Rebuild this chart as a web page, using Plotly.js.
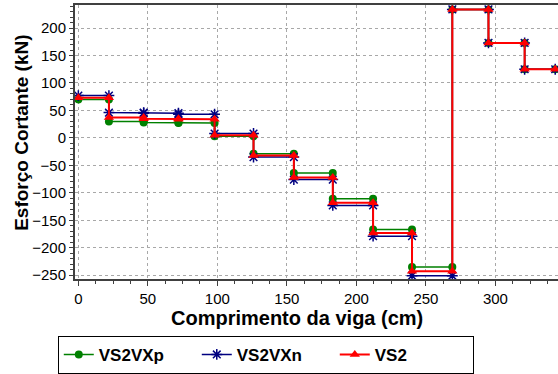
<!DOCTYPE html>
<html>
<head>
<meta charset="utf-8">
<script src="https://cdn.plot.ly/plotly-3.0.1.min.js"></script>
<style>html,body{margin:0;padding:0;background:#fff;}#chart{width:558px;height:374px;}</style>
</head>
<body>
<div id="chart"></div>
<script>
// Segment boundaries along the beam (cm)
const boundaries = [0, 22, 47, 72, 98, 126, 155, 183, 212, 240, 269, 295, 321, 343];
// Shear level on each segment (kN)
const levelsVS2VXp = [70, 30, 28, 27, 3, -29, -64, -111, -167, -235, 234, 173, 125];
const levelsVS2VXn = [77, 46, 45, 43, 8, -35, -76, -123, -179, -251, 234, 173, 125];
const levelsVS2    = [73, 37, 35, 34, 5, -32, -72, -118, -173, -243, 234, 173, 125];
const seriesNames = ['VS2VXp', 'VS2VXn', 'VS2'];
const xTickVals = [0, 50, 100, 150, 200, 250, 300];
const yTickVals = [-250, -200, -150, -100, -50, 0, 50, 100, 150, 200];
const xTitle = 'Comprimento da viga (cm)';
const yTitle = 'Esforço Cortante (kN)';

function stepXY(levels) {
  const x = [], y = [];
  for (let i = 0; i < levels.length; i++) {
    x.push(boundaries[i], boundaries[i + 1]);
    y.push(levels[i], levels[i]);
  }
  return {x, y};
}

const sp = stepXY(levelsVS2VXp), sn = stepXY(levelsVS2VXn), s2 = stepXY(levelsVS2);
const traces = [
  {x: sp.x, y: sp.y, name: seriesNames[0], mode: 'lines+markers',
   line: {color: '#008000', width: 1.5},
   marker: {symbol: 'circle', size: 8, color: '#008000'}},
  {x: sn.x, y: sn.y, name: seriesNames[1], mode: 'lines+markers',
   line: {color: '#000080', width: 1.5},
   marker: {symbol: 'asterisk-open', size: 9, color: '#000080', line: {color: '#000080', width: 1.5}}},
  {x: s2.x, y: s2.y, name: seriesNames[2], mode: 'lines+markers',
   line: {color: '#ff0000', width: 2},
   marker: {symbol: 'triangle-up', size: 9, color: '#ff0000'}}
];

const fam = 'Liberation Sans, Arial, sans-serif';
const tickFont = {family: fam, size: 15, color: '#000'};

const layout = {
  width: 558, height: 374,
  margin: {l: 75, r: 0, t: 5, b: 95},
  paper_bgcolor: '#fff', plot_bgcolor: '#fff',
  showlegend: true,
  legend: {orientation: 'h', x: 0.395, xanchor: 'center', y: -0.277, yanchor: 'middle',
    bordercolor: '#000', borderwidth: 1, bgcolor: '#fff',
    font: {family: fam, size: 17, color: '#000', weight: 'bold'},
    entrywidth: 93, tracegroupgap: 0},
  annotations: [
    {text: xTitle, xref: 'paper', yref: 'paper', x: 0.46, y: -0.142, xanchor: 'center', yanchor: 'middle',
     showarrow: false, font: {family: fam, size: 20, color: '#000', weight: 'bold'}},
    {text: yTitle, xref: 'paper', yref: 'paper', x: -0.11, y: 0.533, xanchor: 'center', yanchor: 'middle',
     textangle: -90, showarrow: false, font: {family: fam, size: 19, color: '#000', weight: 'bold'}}
  ],
  xaxis: {
    range: [-2.4, 345], tickvals: xTickVals, ticks: 'outside', ticklen: 5, tickcolor: '#404040',
    showline: true, linecolor: '#404040', linewidth: 2, mirror: true,
    showgrid: true, gridcolor: '#a8a8a8', griddash: 'dot', gridwidth: 1, zeroline: false,
    minor: {dtick: 12.5, ticks: 'outside', ticklen: 3, tickcolor: '#404040', showgrid: false},
    tickfont: tickFont
  },
  yaxis: {
    range: [-257, 242], tickvals: yTickVals, ticks: 'outside', ticklen: 4, tickcolor: '#404040',
    showline: true, linecolor: '#404040', linewidth: 2, mirror: true,
    showgrid: true, gridcolor: '#a8a8a8', griddash: 'dot', gridwidth: 1, zeroline: false,
    minor: {dtick: 10, ticks: 'outside', ticklen: 3, tickcolor: '#404040', showgrid: false},
    tickfont: tickFont
  }
};

Plotly.newPlot('chart', traces, layout, {displayModeBar: false, staticPlot: true});
</script>
</body>
</html>
